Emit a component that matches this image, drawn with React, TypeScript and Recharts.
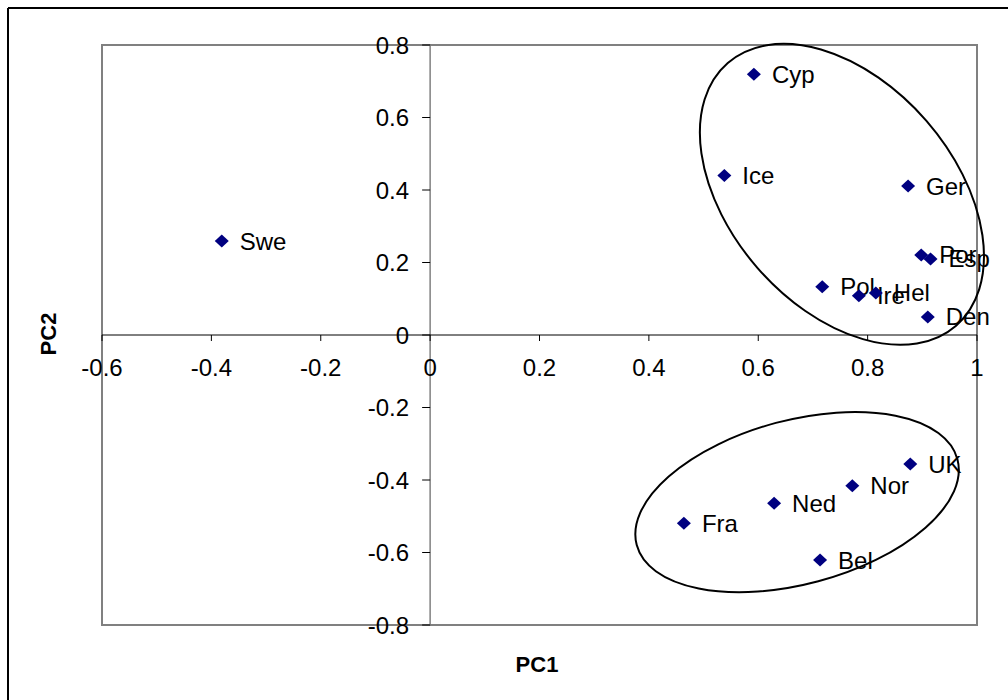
import { ScatterChart, Scatter, XAxis, YAxis, ReferenceLine, ReferenceDot, ReferenceArea } from "recharts"

// PCA scores
const countries = ["Swe", "Cyp", "Ice", "Ger", "Por", "Esp", "Pol", "Ire", "Hel", "Den", "UK", "Nor", "Ned", "Fra", "Bel"]
const pc1 = [-0.381, 0.592, 0.538, 0.874, 0.898, 0.915, 0.717, 0.784, 0.815, 0.91, 0.878, 0.772, 0.629, 0.464, 0.713]
const pc2 = [0.259, 0.719, 0.44, 0.411, 0.221, 0.21, 0.133, 0.108, 0.116, 0.05, -0.356, -0.416, -0.464, -0.519, -0.621]

const xTicks = ["-0.6", "-0.4", "-0.2", "0", "0.2", "0.4", "0.6", "0.8", "1"]
const yTicks = ["-0.8", "-0.6", "-0.4", "-0.2", "0", "0.2", "0.4", "0.6", "0.8"]

// cluster outlines (centre in PC units)
const clusterPc1 = [0.753, 0.671]
const clusterPc2 = [0.388, -0.461]

const ellipseStyle = [
  { rx: 174, ry: 112, angle: 49 },
  { rx: 166, ry: 82, angle: -15 },
]

const data = countries.map((name, i) => ({ name, x: pc1[i], y: pc2[i] }))

const FONT = '"Liberation Sans", Arial, sans-serif'

const Diamond = (props: any) => {
  const { cx, cy, payload } = props
  return (
    <g>
      <polygon
        points={`${cx - 7},${cy} ${cx},${cy - 6.5} ${cx + 7},${cy} ${cx},${cy + 6.5}`}
        fill="#000080"
      />
      <text x={cx + 18} y={cy} dominantBaseline="central" fontSize={24} fontFamily={FONT} fill="#000">
        {payload.name}
      </text>
    </g>
  )
}

const XTick = (label: string) => (props: any) => {
  const { cx, cy } = props
  return (
    <g>
      <line x1={cx} y1={cy} x2={cx} y2={cy + 6} stroke="#000" strokeWidth={1} />
      <text x={cx} y={cy + 32} textAnchor="middle" dominantBaseline="central" fontSize={24} fontFamily={FONT} fill="#000">
        {label}
      </text>
    </g>
  )
}

const YTick = (label: string) => (props: any) => {
  const { cx, cy } = props
  return (
    <g>
      <line x1={cx - 8} y1={cy} x2={cx} y2={cy} stroke="#000" strokeWidth={1} />
      <text x={cx - 21} y={cy} textAnchor="end" dominantBaseline="central" fontSize={24} fontFamily={FONT} fill="#000">
        {label}
      </text>
    </g>
  )
}

const Ellipse = (i: number) => (props: any) => {
  const { cx, cy } = props
  const s = ellipseStyle[i]
  return (
    <ellipse
      cx={cx}
      cy={cy}
      rx={s.rx}
      ry={s.ry}
      transform={`rotate(${s.angle} ${cx} ${cy})`}
      fill="none"
      stroke="#000"
      strokeWidth={2}
    />
  )
}

export default function App() {
  return (
    <div style={{ position: "absolute", left: 0, top: 0, width: 1008, height: 700, background: "#fff" }}>
      <ScatterChart width={1008} height={700} margin={{ top: 45, right: 31, bottom: 75, left: 102 }}>
        <XAxis type="number" dataKey="x" domain={[-0.6, 1]} hide />
        <YAxis type="number" dataKey="y" domain={[-0.8, 0.8]} hide />
        <ReferenceArea x1={-0.6} x2={1} y1={-0.8} y2={0.8} fill="none" stroke="#808080" strokeWidth={2} ifOverflow="visible" />
        <ReferenceLine x={0} stroke="#808080" strokeWidth={1.5} />
        <ReferenceLine y={0} stroke="#000" strokeWidth={1} />
        {xTicks.map((t) => (
          <ReferenceDot key={"x" + t} x={Number(t)} y={0} ifOverflow="visible" shape={XTick(t)} />
        ))}
        {yTicks.map((t) => (
          <ReferenceDot key={"y" + t} x={0} y={Number(t)} ifOverflow="visible" shape={YTick(t)} />
        ))}
        {clusterPc1.map((cx, i) => (
          <ReferenceDot key={"e" + i} x={cx} y={clusterPc2[i]} ifOverflow="visible" shape={Ellipse(i)} />
        ))}
        <Scatter data={data} shape={Diamond} isAnimationActive={false} />
      </ScatterChart>
      <svg width={1008} height={700} style={{ position: "absolute", left: 0, top: 0, pointerEvents: "none" }}>
        <line x1={8} y1={8} x2={1008} y2={8} stroke="#000" strokeWidth={2} />
        <line x1={8} y1={8} x2={8} y2={700} stroke="#000" strokeWidth={2} />
        <text x={537} y={664} textAnchor="middle" dominantBaseline="central" fontSize={22} fontWeight="bold" fontFamily={FONT}>
          PC1
        </text>
        <text
          x={48}
          y={334}
          textAnchor="middle"
          dominantBaseline="central"
          fontSize={22}
          fontWeight="bold"
          fontFamily={FONT}
          transform="rotate(-90 48 334)"
        >
          PC2
        </text>
      </svg>
    </div>
  )
}
